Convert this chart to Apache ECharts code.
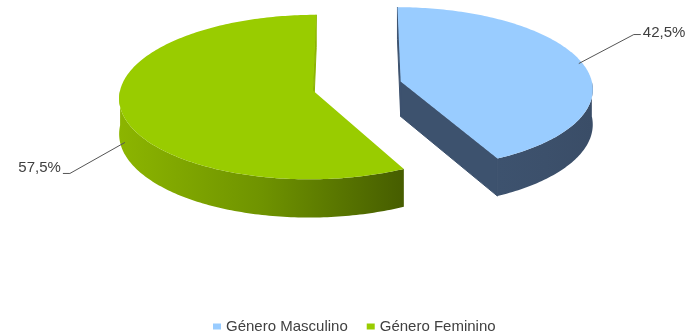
<!DOCTYPE html>
<html>
<head>
<meta charset="utf-8">
<title>Género</title>
<script src="https://cdn.jsdelivr.net/npm/echarts@6/dist/echarts.min.js"></script>
<style>
  html, body { margin: 0; padding: 0; background: #ffffff; }
  #chart { width: 686px; height: 334px; }
</style>
</head>
<body>
<div id="chart"></div>
<script>
// Distribution by gender
const categories = ['Género Masculino', 'Género Feminino'];
const values = [42.5, 57.5];

// Look of each slice: top face, side gradient stops
const topColors = ['#99ccff', '#99cc00'];
const sideStops = [
  ['#3d526e', '#3c506b', '#3a4d67'],
  ['#8cb500', '#6f9300', '#465d00']
];

// Projection of the tilted disc
const CX = 357, CY = 86;      // disc centre on screen
const RX = 192, RY = 81;      // radii of the disc outline
const K = 0.08;               // perspective strength (front larger than back)
const DEPTH = 35;             // thickness of the disc
const EXPLODE = 0.235;        // slice offset, in radius units
const TAIL = 7;               // horizontal leader tail
const FONT = '15px "Liberation Sans", Arial, sans-serif';

const total = values.reduce((a, b) => a + b, 0);
const starts = [];
values.reduce((acc, v, i) => { starts[i] = acc; return acc + v; }, 0);

function project(cu, cv, theta, r, z) {
  const u = cu + r * Math.sin(theta);
  const v = cv - r * Math.cos(theta);
  const s = 1 / (1 - K * v);
  return [CX + RX * u * s, CY + RY * v * s + z * s];
}

function arc(cu, cv, a0, a1, z) {
  const n = Math.max(2, Math.ceil(Math.abs(a1 - a0) / (Math.PI / 180)));
  const pts = [];
  for (let i = 0; i <= n; i++) {
    pts.push(project(cu, cv, a0 + (a1 - a0) * i / n, 1, z));
  }
  return pts;
}

function formatPct(v) {
  return v.toFixed(1).replace('.', ',') + '%';
}

function renderSlice(params, api) {
  const idx = params.seriesIndex;
  const start = api.value(0);
  const val = api.value(1);
  const a0 = start / total * Math.PI * 2;
  const a1 = (start + val) / total * Math.PI * 2;
  const mid = (a0 + a1) / 2;
  const cu = EXPLODE * Math.sin(mid);
  const cv = -EXPLODE * Math.cos(mid);

  const apexTop = project(cu, cv, 0, 0, 0);
  const apexBot = project(cu, cv, 0, 0, DEPTH);
  const stops = sideStops[idx];
  const sideFill = new echarts.graphic.LinearGradient(0, 0, 1, 0,
    stops.map((c, i) => ({ offset: i / (stops.length - 1), color: c })));
  const children = [];

  // radial cut faces that turn toward the viewer
  [[a0, -1], [a1, 1]].forEach(([phi, dir]) => {
    if (dir * Math.sin(phi) > -1e-6) {
      children.push({
        type: 'polygon',
        shape: { points: [apexTop, project(cu, cv, phi, 1, 0), project(cu, cv, phi, 1, DEPTH), apexBot] },
        style: { fill: stops[0], stroke: stops[0], lineWidth: 1 }
      });
    }
  });

  // visible part of the rim (front half)
  const s0 = Math.max(a0, Math.PI / 2);
  const s1 = Math.min(a1, Math.PI * 1.5);
  if (s1 > s0) {
    const topEdge = arc(cu, cv, s0, s1, 0);
    const botEdge = arc(cu, cv, s1, s0, DEPTH);
    children.push({
      type: 'polygon',
      shape: { points: topEdge.concat(botEdge) },
      style: { fill: sideFill }
    });
  }

  // top face
  children.push({
    type: 'polygon',
    shape: { points: [apexTop].concat(arc(cu, cv, a0, a1, 0)) },
    style: { fill: topColors[idx] }
  });

  // leader line and value label
  const front = -Math.cos(mid) > 0;
  const anchor = project(cu, cv, mid, 0.98, front ? DEPTH * 0.92 : 0);
  const right = Math.sin(mid) >= 0;
  const sx = right ? 1 : -1;
  const elbow = [anchor[0] + sx * 55, anchor[1] + (front ? 31 : -29)];
  const tail = [elbow[0] + sx * TAIL, elbow[1]];
  children.push({
    type: 'polyline',
    shape: { points: [anchor, elbow, tail] },
    style: { stroke: '#555555', lineWidth: 1, fill: null }
  });
  children.push({
    type: 'text',
    x: tail[0] + sx * 2,
    y: tail[1] - (front ? 6 : 2),
    style: {
      text: formatPct(val),
      fill: '#404040',
      font: FONT,
      align: right ? 'left' : 'right',
      verticalAlign: 'middle'
    }
  });

  return { type: 'group', children: children };
}

const chart = echarts.init(document.getElementById('chart'), null, { renderer: 'canvas' });
chart.setOption({
  animation: false,
  backgroundColor: '#ffffff',
  color: topColors,
  legend: {
    data: categories,
    left: 208,
    top: 314,
    icon: 'rect',
    itemWidth: 8,
    itemHeight: 6,
    itemGap: 19,
    textStyle: { fontSize: 15, color: '#404040', fontFamily: '"Liberation Sans", Arial, sans-serif' }
  },
  series: categories.map((name, i) => ({
    type: 'custom',
    name: name,
    coordinateSystem: 'none',
    silent: true,
    renderItem: renderSlice,
    data: [[starts[i], values[i]]]
  }))
});
</script>
</body>
</html>
